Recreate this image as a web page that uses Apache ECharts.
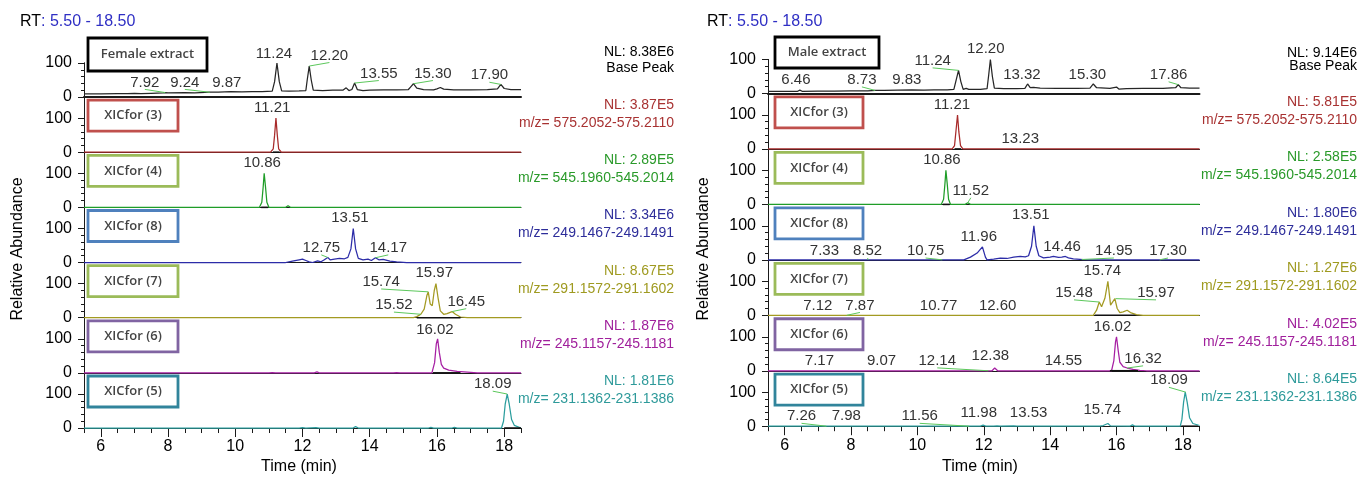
<!DOCTYPE html>
<html>
<head>
<meta charset="utf-8">
<title>XIC chromatograms</title>
<style>
html, body { margin: 0; padding: 0; background: #fff; }
#chart { width: 1362px; height: 477px; }
</style>
</head>
<body>
<div id="chart"></div>
<script src="https://cdn.jsdelivr.net/npm/echarts@6/dist/echarts.min.js"></script>
<script>
// ---- axis ticks ----
var timeMajor = [6, 8, 10, 12, 14, 16, 18];
var timeMinor = [5.5, 6, 6.5, 7, 7.5, 8, 8.5, 9, 9.5, 10, 10.5, 11, 11.5, 12, 12.5, 13, 13.5, 14, 14.5, 15, 15.5, 16, 16.5, 17, 17.5, 18, 18.5];

// ---- labels ----
var traceTitles = ['XICfor (3)', 'XICfor (4)', 'XICfor (8)', 'XICfor (7)', 'XICfor (6)', 'XICfor (5)'];
var mzRanges = ['Base Peak', 'm/z= 575.2052-575.2110', 'm/z= 545.1960-545.2014', 'm/z= 249.1467-249.1491',
  'm/z= 291.1572-291.1602', 'm/z= 245.1157-245.1181', 'm/z= 231.1362-231.1386'];
var femaleNL = ['NL: 8.38E6', 'NL: 3.87E5', 'NL: 2.89E5', 'NL: 3.34E6', 'NL: 8.67E5', 'NL: 1.87E6', 'NL: 1.81E6'];
var maleNL = ['NL: 9.14E6', 'NL: 5.81E5', 'NL: 2.58E5', 'NL: 1.80E6', 'NL: 1.27E6', 'NL: 4.02E5', 'NL: 8.64E5'];

// ---- female traces [time, relative abundance] ----
var femaleBase = [[5.5,9],[6.0,9],[6.5,10],[6.8,10],[7.0,11],[7.2,10],[7.5,11],[7.85,12],[7.92,13],[8.0,12],[8.5,13],[8.8,12],[9.24,14],[9.5,14],
  [9.87,16],[10.2,15],[10.5,16],[10.8,16],[11.1,17],[11.17,45],[11.24,100],[11.31,45],[11.38,18],[11.6,17],[11.9,18],[12.1,19],
  [12.14,50],[12.2,91],[12.26,50],[12.32,20],[12.6,19],[12.9,20],[13.2,20],[13.3,27],[13.38,19],[13.47,22],[13.55,41],[13.63,22],
  [13.8,19],[14.0,20],[14.4,21],[14.8,21],[15.15,22],[15.22,30],[15.3,39],[15.4,26],[15.6,22],[15.9,21],[16.0,24],[16.1,28],
  [16.2,23],[16.5,21],[17.0,21],[17.5,22],[17.8,24],[17.9,37],[18.0,25],[18.2,22],[18.5,22]];
var femaleXic3 = [[5.5,0],[11.05,0],[11.13,10],[11.17,50],[11.21,100],[11.25,50],[11.29,10],[11.37,0],[18.5,0]];
var femaleXic4 = [[5.5,0],[10.72,0],[10.79,15],[10.83,60],[10.86,100],[10.9,60],[10.94,15],[11.0,0],[11.5,0],[11.57,5],[11.64,0],[18.5,0]];
var femaleXic8 = [[5.5,0],[11.5,0],[11.7,4],[11.9,8],[12.0,10],[12.1,6],[12.2,2],[12.3,0],[12.45,5],[12.55,2],[12.65,8],[12.75,15],
  [12.82,8],[12.95,10],[13.1,12],[13.25,11],[13.35,15],[13.44,40],[13.51,100],[13.58,40],[13.66,12],[13.8,8],[13.95,10],[14.05,6],
  [14.17,14],[14.27,8],[14.4,9],[14.6,4],[14.8,2],[15.1,0],[18.5,0]];
var femaleXic7 = [[5.5,0],[15.3,0],[15.4,3],[15.52,10],[15.62,25],[15.7,65],[15.74,76],[15.8,40],[15.86,35],[15.92,80],[15.97,100],
  [16.03,60],[16.1,20],[16.2,10],[16.3,12],[16.45,18],[16.55,10],[16.7,2],[16.9,0],[18.5,0]];
var femaleXic6 = [[5.5,0],[11.0,0],[11.1,1],[11.2,0],[12.35,0],[12.43,3],[12.5,0],[14.7,0],[14.8,1],[14.9,0],[15.85,0],[15.93,30],
  [15.98,85],[16.02,100],[16.07,60],[16.13,25],[16.2,14],[16.35,8],[16.6,4],[16.9,2],[17.2,0],[18.5,0]];
var femaleXic5 = [[5.5,0],[11.9,0],[12.0,1],[12.1,0],[12.4,1],[12.5,0],[13.5,0],[13.58,4],[13.66,0],[15.75,0],[15.82,2],[15.9,0],
  [16.45,0],[16.52,2],[16.6,0],[17.92,0],[17.98,20],[18.03,70],[18.09,100],[18.15,70],[18.22,25],[18.3,8],[18.5,0]];

// ---- male traces ----
var maleBase = [[5.5,6],[6.0,6],[6.38,6],[6.46,10],[6.54,6],[7.0,7],[7.5,7],[8.0,8],[8.5,8],[8.73,9],[9.0,9],[9.4,10],[9.83,11],
  [10.2,10],[10.5,11],[10.9,11],[11.1,12],[11.17,40],[11.24,68],[11.31,35],[11.38,12],[11.47,15],[11.55,12],[11.9,12],[12.1,14],
  [12.15,55],[12.2,100],[12.26,50],[12.32,16],[12.6,14],[13.0,14],[13.24,15],[13.32,28],[13.4,17],[13.5,18],[13.7,16],[14.2,15],
  [14.8,15],[15.2,16],[15.3,28],[15.4,17],[15.8,15],[16.0,19],[16.07,13],[16.3,14],[16.8,15],[17.4,15],[17.78,17],[17.86,26],
  [17.94,17],[18.2,16],[18.5,16]];
var maleXic3 = [[5.5,0],[11.05,0],[11.12,10],[11.16,50],[11.21,100],[11.25,50],[11.3,10],[11.37,0],[13.18,0],[13.23,2],[13.28,0],[18.5,0]];
var maleXic4 = [[5.5,0],[10.72,0],[10.79,15],[10.83,60],[10.86,100],[10.9,60],[10.94,15],[11.0,0],[11.44,0],[11.52,5],[11.6,0],[18.5,0]];
var maleXic8 = [[5.5,0],[11.4,0],[11.6,8],[11.8,20],[11.96,38],[12.05,8],[12.1,0],[12.3,2],[12.5,5],[12.7,4],[12.9,8],[13.1,10],
  [13.25,9],[13.35,12],[13.44,40],[13.51,100],[13.58,40],[13.66,12],[13.8,6],[14.0,8],[14.1,10],[14.25,7],[14.35,8],[14.46,10],
  [14.55,6],[14.7,3],[15.0,1],[15.3,0],[18.5,0]];
var maleXic7 = [[5.5,0],[15.3,0],[15.4,15],[15.48,39],[15.55,25],[15.65,50],[15.74,100],[15.82,30],[15.88,25],[15.95,49],[16.02,20],
  [16.1,8],[16.2,10],[16.32,15],[16.42,8],[16.6,2],[16.8,0],[18.5,0]];
var maleXic6 = [[5.5,0],[12.25,0],[12.33,8],[12.42,0],[14.55,0],[14.6,1],[14.7,0],[15.85,0],[15.92,30],[15.97,85],[16.0,100],
  [16.05,60],[16.1,25],[16.2,12],[16.32,8],[16.5,4],[16.7,1],[16.9,0],[18.5,0]];
var maleXic5 = [[5.5,0],[11.9,0],[11.98,3],[12.06,0],[12.3,0],[12.4,1],[12.5,0],[12.9,1],[13.0,0],[13.47,0],[13.53,3],[13.6,0],
  [15.5,0],[15.6,2],[15.66,1],[15.74,8],[15.82,1],[16.4,0],[16.48,4],[16.56,0],[17.92,0],[17.97,20],[18.02,70],[18.07,100],
  [18.13,70],[18.2,25],[18.3,8],[18.5,2]];

// ---- peak labels: [rt, peak height, label time, label height, leader] ----
var femaleNotes = [
  [[7.92,13,7.31,43,1],[9.24,14,8.5,43,1],[9.87,16,9.75,43,0],[11.24,100,11.15,128,0],[12.20,91,12.8,122,1],[13.55,41,14.27,69,1],[15.30,39,15.88,69,1],[17.90,37,17.56,64,1]],
  [[11.21,100,11.1,129,0]],
  [[10.86,100,10.8,130,0]],
  [[12.75,15,12.56,43,1],[13.51,100,13.41,131,0],[14.17,14,14.55,43,1]],
  [[15.52,10,14.72,37,1],[15.74,76,14.34,105,1],[15.97,100,15.92,131,0],[16.45,18,16.87,47,1]],
  [[16.02,100,15.94,126,0]],
  [[18.09,100,17.66,129,1]]
];
var maleNotes = [
  [[6.46,10,6.34,40,0],[8.73,9,8.33,40,1],[9.83,11,9.68,40,0],[11.24,68,10.46,96,1],[12.20,100,12.06,131,0],[13.32,28,13.15,55,0],[15.30,28,15.12,55,0],[17.86,26,17.57,55,1]],
  [[11.21,100,11.04,130,0],[13.23,2,13.1,29,0]],
  [[10.86,100,10.74,130,0],[11.52,5,11.61,40,1]],
  [[7.33,0,7.2,26,0],[8.52,0,8.5,26,1],[10.75,0,10.25,26,1],[11.96,38,11.85,67,0],[13.51,100,13.42,132,0],[14.46,10,14.36,38,0],[14.95,1,15.92,26,1],[17.30,0,17.55,26,1]],
  [[7.12,0,7.0,29,0],[7.87,0,8.27,29,1],[10.77,0,10.64,29,0],[12.60,0,12.42,29,0],[15.48,39,14.72,66,1],[15.74,100,15.57,130,0],[15.97,49,17.19,66,1]],
  [[7.17,0,7.05,29,0],[9.07,0,8.92,29,0],[12.14,0,10.6,29,1],[12.38,8,12.2,44,0],[14.55,0,14.4,29,0],[16.02,100,15.88,129,0],[16.32,8,16.8,35,1]],
  [[7.26,0,6.51,29,1],[7.98,0,7.86,29,0],[11.56,0,10.07,29,1],[11.98,3,11.85,38,0],[13.53,3,13.35,38,0],[15.74,8,15.57,47,0],[18.09,100,17.58,135,1]]
];

// ---- integration baselines [start, end] ----
var femaleMarks = [[], [[11.12,11.32]], [[10.77,10.97]], [], [[15.4,16.7]], [[15.88,16.7]], [[18.0,18.5]]];
var maleMarks = [[], [[11.12,11.32]], [[10.77,10.97]], [], [[15.35,16.55]], [[15.8,16.65]], [[17.95,18.45]]];

var boxColors = ['#000000', '#c0504d', '#9bbb59', '#4f81bd', '#9bbb59', '#8064a2', '#31849b'];
var lineColors = ['#262626', '#a82a2a', '#1f9d28', '#2c2ca8', '#a39a22', '#a61fa3', '#2a9d9d'];
var textColors = ['#000000', '#a83232', '#2a9a2a', '#2d2d9a', '#9f9a20', '#a0209c', '#2e9a9a'];

var FONT = 'Arial, "Liberation Sans", sans-serif';

var panels = [
  { left: 84, width: 437, base: 97, step: 55.17, title: 'Female extract', titleBox: [88, 38, 119, 33],
    boxX: 88, boxW: 90, textRight: 674, nlOff: [-45, -29], rtX: 20, ylabX: 18, timeX: 299,
    traces: [femaleBase, femaleXic3, femaleXic4, femaleXic8, femaleXic7, femaleXic6, femaleXic5],
    notes: femaleNotes, marks: femaleMarks, nl: femaleNL },
  { left: 768, width: 431.5, base: 93.5, step: 55.45, title: 'Male extract', titleBox: [775, 37, 104, 31],
    boxX: 775, boxW: 88, textRight: 1357, nlOff: [-40, -27], rtX: 707, ylabX: 704, timeX: 980,
    traces: [maleBase, maleXic3, maleXic4, maleXic8, maleXic7, maleXic6, maleXic5],
    notes: maleNotes, marks: maleMarks, nl: maleNL }
];

function renderNote(params, api) {
  var rt = api.value(0);
  var p = api.coord([rt, api.value(1)]);
  var l = api.coord([api.value(2), api.value(3)]);
  var kids = [];
  if (api.value(4)) {
    kids.push({ type: 'line', shape: { x1: p[0], y1: p[1], x2: l[0], y2: l[1] + 7 },
      style: { stroke: '#5cc85c', lineWidth: 1 } });
  }
  kids.push({ type: 'text', style: { text: rt.toFixed(2), x: l[0], y: l[1], align: 'center', verticalAlign: 'middle',
    font: '15px ' + FONT, fill: '#333' } });
  return { type: 'group', children: kids };
}

function renderMark(params, api) {
  var a = api.coord([api.value(0), 0]);
  var b = api.coord([api.value(1), 0]);
  return { type: 'line', shape: { x1: a[0], y1: a[1], x2: b[0], y2: b[1] }, style: { stroke: '#111', lineWidth: 1.6 } };
}

var grids = [], xAxes = [], yAxes = [], series = [], graphics = [];

panels.forEach(function (P) {
  for (var i = 0; i < 7; i++) {
    var y0 = P.base + P.step * i;
    var gi = grids.length;
    var last = i === 6;
    grids.push({ left: P.left, top: y0 - 34, width: P.width, height: 34, outerBoundsMode: 'none' });
    xAxes.push({
      gridIndex: gi, type: 'value', min: 5.5, max: 18.5,
      axisLine: { show: true, onZero: false, lineStyle: { color: '#1a1a1a', width: i === 0 ? 2 : 1 } },
      axisTick: { show: last, customValues: timeMinor, length: 5, lineStyle: { color: '#1a1a1a' } },
      axisLabel: { show: false },
      splitLine: { show: false }
    });
    yAxes.push({
      gridIndex: gi, type: 'value', min: 0, max: 100, interval: 100,
      axisLine: { show: true, lineStyle: { color: '#1a1a1a' } },
      axisTick: { show: true, length: 6, lineStyle: { color: '#1a1a1a' } },
      minorTick: { show: true, splitNumber: 5, length: 3, lineStyle: { color: '#1a1a1a' } },
      axisLabel: { fontSize: 16, fontFamily: FONT, color: '#000', margin: 12 },
      splitLine: { show: false }, minorSplitLine: { show: false }
    });
    series.push({
      type: 'line', xAxisIndex: gi, yAxisIndex: gi, data: P.traces[i], symbol: 'none', clip: false,
      lineStyle: { color: lineColors[i], width: 1.25 }, z: 3, silent: true
    });
    series.push({
      type: 'custom', xAxisIndex: gi, yAxisIndex: gi, data: P.marks[i], renderItem: renderMark, clip: false, z: 4, silent: true
    });
    series.push({
      type: 'custom', xAxisIndex: gi, yAxisIndex: gi, data: P.notes[i], renderItem: renderNote, clip: false, z: 5, silent: true
    });

    // trace title box
    var bx, by, bw, bh, label;
    if (i === 0) {
      bx = P.titleBox[0]; by = P.titleBox[1]; bw = P.titleBox[2]; bh = P.titleBox[3]; label = P.title;
    } else {
      bx = P.boxX; by = y0 - 52; bw = P.boxW; bh = 31; label = traceTitles[i - 1];
    }
    graphics.push({ type: 'rect', shape: { x: bx, y: by, width: bw, height: bh },
      style: { fill: '#fff', stroke: boxColors[i], lineWidth: 2.8 }, z: 10 });
    graphics.push({ type: 'text', style: { text: label, x: bx + bw / 2, y: by + bh / 2, align: 'center', verticalAlign: 'middle',
      font: '600 13px "Open Sans", sans-serif', fill: '#444' }, z: 11 });

    // NL and m/z
    var o1 = i === 0 ? P.nlOff[0] : -47, o2 = i === 0 ? P.nlOff[1] : -29;
    graphics.push({ type: 'text', style: { text: P.nl[i], x: P.textRight, y: y0 + o1, align: 'right', verticalAlign: 'middle',
      font: '14px ' + FONT, fill: textColors[i] }, z: 11 });
    graphics.push({ type: 'text', style: { text: mzRanges[i], x: P.textRight, y: y0 + o2, align: 'right', verticalAlign: 'middle',
      font: '14px ' + FONT, fill: textColors[i] }, z: 11 });
  }

  // frame: full height y axis line, time ticks and labels
  var fi = grids.length;
  grids.push({ left: P.left, top: P.base - 34, width: P.width, height: P.step * 6 + 34, outerBoundsMode: 'none' });
  xAxes.push({
    gridIndex: fi, type: 'value', min: 5.5, max: 18.5,
    axisLine: { show: false, onZero: false },
    axisTick: { show: true, customValues: timeMajor, length: 9, lineStyle: { color: '#1a1a1a' } },
    axisLabel: { customValues: timeMajor, fontSize: 16, fontFamily: FONT, color: '#000', margin: 11 },
    splitLine: { show: false }
  });
  yAxes.push({
    gridIndex: fi, type: 'value', min: 0, max: 1,
    axisLine: { show: true, lineStyle: { color: '#1a1a1a' } },
    axisTick: { show: false }, axisLabel: { show: false }, splitLine: { show: false }
  });

  graphics.push({ type: 'text', style: { text: '{a|RT}{b|: 5.50 - 18.50}', x: P.rtX, y: 22, verticalAlign: 'middle',
    rich: { a: { fill: '#000', fontSize: 16, fontFamily: FONT }, b: { fill: '#2f2fc4', fontSize: 16, fontFamily: FONT } } } });
  graphics.push({ type: 'text', x: P.ylabX, y: 249, rotation: Math.PI / 2,
    style: { text: 'Relative Abundance', x: 0, y: 0, align: 'center', verticalAlign: 'middle', font: '16px ' + FONT, fill: '#000' } });
  graphics.push({ type: 'text', style: { text: 'Time (min)', x: P.timeX, y: 467, align: 'center', verticalAlign: 'middle',
    font: '16px ' + FONT, fill: '#000' } });
});

var chart = echarts.init(document.getElementById('chart'));
chart.setOption({
  backgroundColor: '#fff',
  animation: false,
  grid: grids,
  xAxis: xAxes,
  yAxis: yAxes,
  series: series,
  graphic: graphics
});
</script>
</body>
</html>
